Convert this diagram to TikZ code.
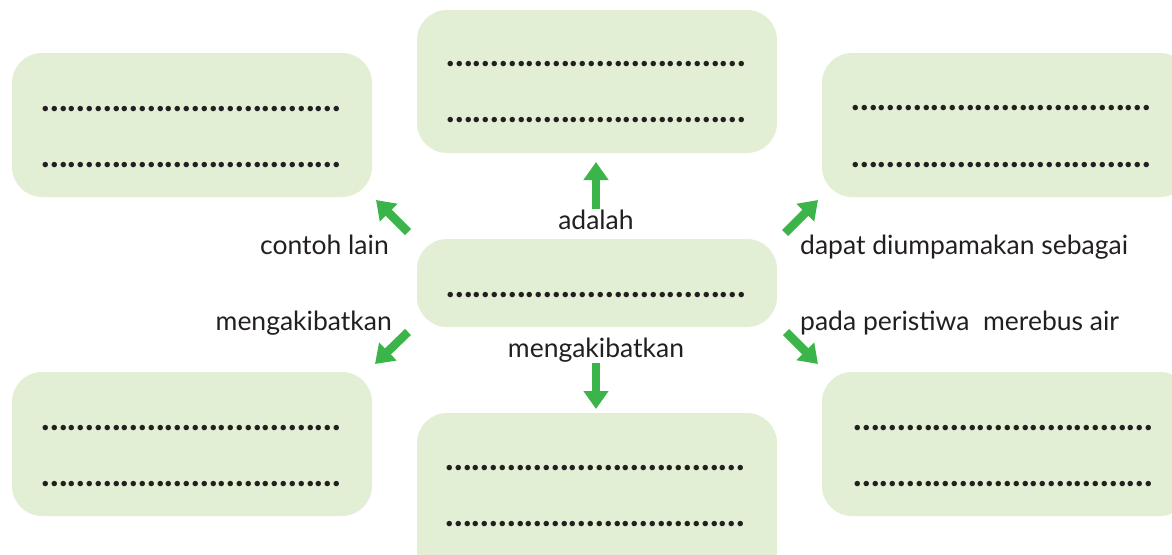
\documentclass[tikz,border=0pt]{standalone}
\usepackage{fontspec}
\setmainfont{Lato}
\usetikzlibrary{arrows.meta}
\definecolor{boxfill}{HTML}{E2EFD5}
\definecolor{arrgreen}{HTML}{3BB54A}
\definecolor{txt}{HTML}{231F20}
\newcommand{\onedot}{\makebox[8.8pt][c]{.}}
\newcommand{\dotrow}{\onedot\onedot\onedot\onedot\onedot\onedot\onedot\onedot\onedot\onedot\onedot\onedot\onedot\onedot\onedot\onedot\onedot\onedot\onedot\onedot\onedot\onedot\onedot\onedot\onedot\onedot\onedot\onedot\onedot\onedot\onedot\onedot\onedot\onedot}
\begin{document}
\begin{tikzpicture}[x=1pt,y=-1pt,
  panel/.style={fill=boxfill, rounded corners=30pt},
  dots/.style={inner sep=0pt, text=txt, font=\fontsize{36}{36}\selectfont\bfseries},
  lab/.style={inner sep=0pt, text=txt, font=\fontsize{26.5}{28}\selectfont},
  garrow/.style={draw=arrgreen, line width=8.5pt, -{Triangle[width=24pt,length=18pt]}}
]
\useasboundingbox (0,0) rectangle (1172,554);
% boxes
\fill[panel] (12,53) rectangle (372,197);
\fill[panel] (417,10) rectangle (777,153);
\fill[panel] (822,53) rectangle (1190,197);
\fill[panel] (417,239) rectangle (777,327);
\fill[panel] (12,372) rectangle (372,516);
\fill[panel] (417,413) rectangle (777,580);
\fill[panel] (822,372) rectangle (1190,516);
% dotted lines
\node[dots] (tl1) at (191,109) {\dotrow};
\node[dots] (tl2) at (191,165) {\dotrow};
\node[dots] (t1) at (596,64) {\dotrow};
\node[dots] (t2) at (596,120) {\dotrow};
\node[dots] (tr1) at (1001,108) {\dotrow};
\node[dots] (tr2) at (1001,165) {\dotrow};
\node[dots] (c1) at (596,295) {\dotrow};
\node[dots] (bl1) at (191,428) {\dotrow};
\node[dots] (bl2) at (191,484) {\dotrow};
\node[dots] (b1) at (595,468) {\dotrow};
\node[dots] (b2) at (595,524) {\dotrow};
\node[dots] (br1) at (1003,428) {\dotrow};
\node[dots] (br2) at (1003,484) {\dotrow};
% arrows
\coordinate (upS) at (596,209); \coordinate (upE) at (596,162);
\coordinate (tlS) at (408,232); \coordinate (tlE) at (376,200);
\coordinate (trS) at (785,233); \coordinate (trE) at (818,200);
\coordinate (blS) at (408,332); \coordinate (blE) at (375,364);
\coordinate (brS) at (786,332); \coordinate (brE) at (818,364);
\coordinate (dnS) at (596,363); \coordinate (dnE) at (596,409);
\draw[garrow] (upS) -- (upE);
\draw[garrow] (tlS) -- (tlE);
\draw[garrow] (trS) -- (trE);
\draw[garrow] (blS) -- (blE);
\draw[garrow] (brS) -- (brE);
\draw[garrow] (dnS) -- (dnE);
% labels
\node[lab, anchor=base] (l1) at (596,229) {adalah};
\node[lab, anchor=base east] (l2) at (389,254) {contoh lain};
\node[lab, anchor=base west] (l3) at (800,254) {dapat diumpamakan sebagai};
\node[lab, anchor=base east] (l4) at (392,330) {mengakibatkan};
\node[lab, anchor=base] (l5) at (596,357) {mengakibatkan};
\node[lab, anchor=base west] (l6) at (800,330) {pada peristiwa\ \ merebus air};
\end{tikzpicture}
\end{document}
